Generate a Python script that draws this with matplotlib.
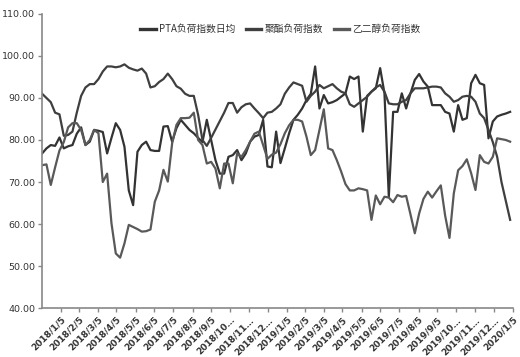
import pandas as pd
import matplotlib.pyplot as plt

plt.rcParams['font.family'] = ['Noto Sans CJK SC', 'DejaVu Sans']

# weekly data, first point 2018/1/5
start = "2018-01-05"

pta = [76.8, 78.0, 78.8, 78.6, 80.6, 78.0, 78.5, 78.8, 81.5, 83.0,
       78.8, 79.6, 82.4, 82.2, 81.9, 76.8, 80.5, 84.0, 82.4, 78.4,
       68.0, 64.5, 77.2, 78.8, 79.6, 77.6, 77.4, 77.4, 83.2, 83.3,
       79.6, 82.8, 84.8, 83.6, 82.4, 81.6, 80.5, 79.5, 84.8, 80.0,
       75.2, 72.0, 72.0, 76.0, 76.4, 77.6, 75.2, 76.8, 79.6, 80.8,
       81.2, 84.8, 73.7, 73.5, 82.0, 74.5, 78.0, 81.6, 84.8, 86.0,
       87.5, 89.5, 91.0, 97.5, 87.5, 90.7, 88.7, 89.0, 89.5, 90.3,
       91.1, 95.1, 94.5, 95.1, 82.0, 90.5, 91.5, 92.3, 97.1, 91.1,
       66.5, 86.7, 86.7, 91.1, 87.5, 91.1, 94.3, 95.7, 93.9, 92.7,
       88.3, 88.3, 88.3, 86.7, 86.3, 82.0, 88.3, 84.8, 85.2, 93.5,
       95.5, 93.5, 93.1, 80.4, 84.4, 85.6, 86.0, 86.3, 86.7]

polyester = [91.0, 90.0, 89.0, 86.5, 86.1, 81.0, 81.2, 82.0, 86.5, 90.5,
             92.5, 93.3, 93.3, 94.5, 96.3, 97.5, 97.5, 97.3, 97.5, 98.0,
             97.2, 96.8, 96.5, 97.0, 95.8, 92.5, 92.8, 93.8, 94.5, 95.8,
             94.5, 92.8, 92.2, 91.0, 90.5, 90.5, 86.0, 80.0, 78.6, 80.5,
             82.5, 84.5, 86.5, 88.8, 88.8, 86.5, 87.8, 88.5, 88.7, 87.5,
             86.4, 85.2, 86.5, 86.7, 87.5, 88.5, 91.0, 92.5, 93.7, 93.3,
             92.9, 89.1, 90.5, 91.5, 93.1, 92.3, 92.8, 93.3, 92.3, 91.5,
             91.1, 88.5, 87.9, 88.7, 89.5, 90.3, 91.5, 92.5, 93.1, 91.5,
             88.7, 88.5, 88.5, 89.1, 89.5, 91.1, 92.3, 92.3, 92.3, 92.5,
             92.7, 92.7, 92.5, 91.1, 90.3, 89.1, 89.5, 90.3, 90.5, 90.3,
             89.1, 86.3, 85.2, 82.4, 79.5, 76.0, 70.0, 65.5, 61.0]

meg = [74.0, 74.2, 69.3, 73.5, 77.5, 79.5, 83.0, 84.0, 84.0, 82.4,
       78.8, 80.0, 82.4, 81.6, 70.0, 72.0, 60.2, 53.0, 52.0, 55.4,
       59.8, 59.3, 58.8, 58.2, 58.3, 58.7, 65.3, 68.0, 72.9, 70.1,
       79.2, 83.6, 85.2, 85.2, 85.3, 86.5, 80.0, 78.8, 74.4, 74.8,
       73.2, 68.5, 74.4, 74.4, 69.7, 76.8, 76.0, 77.6, 79.6, 81.5,
       82.0, 78.8, 75.5, 76.5, 77.0, 79.0, 81.6, 83.5, 84.8, 84.8,
       84.4, 80.8, 76.4, 77.6, 82.4, 87.3, 78.0, 77.6, 75.2, 72.5,
       69.5, 68.0, 68.0, 68.5, 68.3, 68.0, 61.0, 66.8, 64.7, 66.5,
       66.3, 65.2, 66.9, 66.5, 66.7, 62.3, 57.8, 62.5, 66.0, 67.7,
       66.3, 67.8, 69.2, 62.0, 56.7, 67.3, 72.8, 73.8, 75.4, 72.1,
       68.1, 76.4, 74.8, 74.4, 76.0, 80.4, 80.2, 80.0, 79.6]

tick_labels = ["2018/1/5", "2018/2/5", "2018/3/5", "2018/4/5", "2018/5/5",
               "2018/6/5", "2018/7/5", "2018/8/5", "2018/9/5", "2018/10…",
               "2018/11…", "2018/12…", "2019/1/5", "2019/2/5", "2019/3/5",
               "2019/4/5", "2019/5/5", "2019/6/5", "2019/7/5", "2019/8/5",
               "2019/9/5", "2019/10…", "2019/11…", "2019/12…", "2020/1/5"]

names = ["PTA负荷指数日均", "聚酯负荷指数", "乙二醇负荷指数"]
colors = ["#333333", "#3f3f3f", "#595959"]

dates = pd.date_range(start, periods=len(pta), freq="7D")
tick_dates = pd.date_range("2018-01-05", periods=len(tick_labels), freq="MS") + pd.Timedelta(days=4)

fig = plt.figure(figsize=(5.2, 3.57), dpi=100)
ax = fig.add_axes([0.081, 0.137, 0.906, 0.824])

for vals, name, c in zip([pta, polyester, meg], names, colors):
    ax.plot(dates, vals, color=c, lw=1.6, label=name)

ax.set_ylim(40, 110)
ax.set_yticks(range(40, 111, 10))
ax.set_yticklabels([f"{v:.2f}" for v in range(40, 111, 10)], fontsize=6.8,
                   family=['Liberation Sans Narrow', 'DejaVu Sans'])
ax.set_xlim(dates[0], dates[-1] + pd.Timedelta(days=1))
ax.set_xticks(tick_dates)
ax.set_xticklabels(tick_labels, rotation=45, ha="right", rotation_mode="anchor",
                   fontsize=6.5, fontweight="bold", color="#333333",
                   family=['Liberation Sans Narrow', 'DejaVu Sans'])

for s in ["top", "right"]:
    ax.spines[s].set_visible(False)
for s in ["left", "bottom"]:
    ax.spines[s].set_color("#888888")
    ax.spines[s].set_linewidth(1.2)
ax.tick_params(axis="both", color="#888888", length=3, width=1, pad=2)
ax.tick_params(axis="y", labelcolor="#333333")

leg = ax.legend(loc="upper left", bbox_to_anchor=(0.19, 0.995), ncol=3, frameon=False,
                fontsize=7, handlelength=1.6, handletextpad=0.3, columnspacing=1.1,
                labelcolor="#333333")
for h in leg.get_lines():
    h.set_linewidth(2.4)

plt.savefig("out.png", dpi=100)
